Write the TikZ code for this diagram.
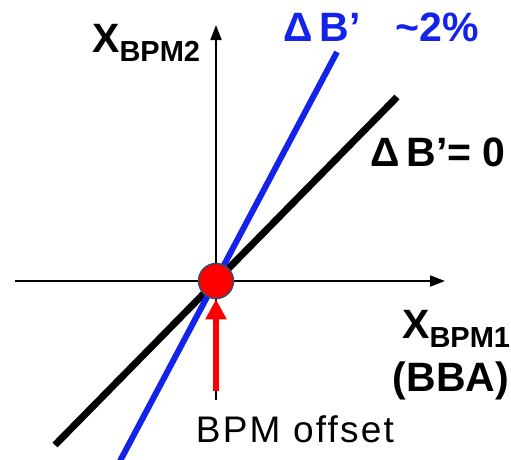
\documentclass[tikz,border=0pt]{standalone}
\usepackage{fontspec}
\setmainfont{Liberation Sans}
\usetikzlibrary{arrows.meta, positioning}
\definecolor{lineblue}{RGB}{20,35,235}
\definecolor{dotedge}{RGB}{55,75,115}
\newcommand{\bpmsub}[1]{X\raisebox{-0.22em}{\fontsize{29}{30}\selectfont #1}}

\begin{document}
\begin{tikzpicture}[x=1pt, y=-1pt,
    axis/.style = {draw=black, line width=2pt, -{Triangle[length=15pt, width=11pt]}},
    slope/.style = {line width=7pt},
    offsetdot/.style = {circle, draw=dotedge, fill=red, line width=1.5pt, inner sep=0pt, minimum size=35pt},
    marker/.style = {draw=red, line width=6pt, -{Triangle[length=20pt, width=20pt]}},
    label/.style = {font=\bfseries\fontsize{41}{43}\selectfont, inner sep=0pt},
    note/.style = {font=\fontsize{37}{39}\selectfont\addfontfeature{LetterSpace=6}, inner sep=0pt}
]
\useasboundingbox (0,0) rectangle (511,459);

% axes
\coordinate (xl) at (15,281);
\coordinate (xr) at (445,281);
\coordinate (yb) at (216,400);
\coordinate (yt) at (216,25);
\draw [axis] (xl) -- (xr);
\draw [axis] (yb) -- (yt);

% orbit slopes
\coordinate (k0a) at (55,445);
\coordinate (k0b) at (397,97);
\coordinate (k2a) at (120,461);
\coordinate (k2b) at (337,52);
\draw [slope, black] (k0a) -- (k0b);
\draw [slope, lineblue, line width=6pt] (k2a) -- (k2b);

% offset point
\node (dot) [offsetdot] at (216,281) {};
\coordinate (tail) at (216,391);
\draw [marker] (tail) -- (dot.south);

% labels
\node (ylab) [label, anchor=base west] at (92,52) {\bpmsub{BPM2}};
\node (xlab) [label, anchor=base west] at (402,338) {\bpmsub{BPM1}};
\node (bba) [label, anchor=base] at (451,391) {(BBA)};
\node (dk2) [label, text=lineblue, anchor=base west] at (283,41) {Δ\,B’\hspace{0.85em}\textasciitilde 2\%};
\node (dk0) [label, anchor=base west] at (370,166) {Δ\,B’=\hspace{0.28em}0};
\node (off) [note, anchor=base] at (295,442) {BPM offset};

\end{tikzpicture}
\end{document}
